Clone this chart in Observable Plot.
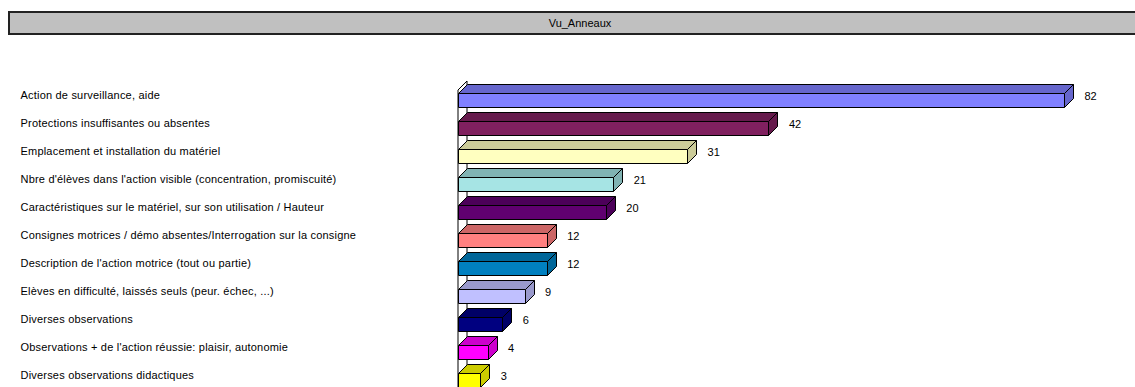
<!DOCTYPE html>
<html>
<head>
<meta charset="utf-8">
<script src="https://cdn.jsdelivr.net/npm/d3@7"></script>
<script src="https://cdn.jsdelivr.net/npm/@observablehq/plot@0.6"></script>
<style>
  body { margin: 0; background: #fff; font-family: Arial, "Liberation Sans", sans-serif; }
  #wrap { position: relative; width: 1135px; height: 387px; overflow: hidden; }
  #chart { position: absolute; left: 0; top: 0; }
  #title {
    position: absolute; left: 8px; top: 11px; width: 1140px; height: 20px;
    background: #c0c0c0; border-top: 2px solid #222; border-left: 2px solid #222;
    border-bottom: 2px solid #222; font-size: 11px; line-height: 20px; text-align: center; color: #000;
  }
  .cat-label { letter-spacing: 0.2px; }
</style>
</head>
<body>
<div id="wrap">
  <div id="chart"></div>
  <div id="title">Vu_Anneaux</div>
</div>
<script>
// Categories (top to bottom) and their counts
const categories = [
  "Action de surveillance, aide",
  "Protections insuffisantes ou absentes",
  "Emplacement et installation du matériel",
  "Nbre d'élèves dans l'action visible (concentration, promiscuité)",
  "Caractéristiques sur le matériel, sur son utilisation / Hauteur",
  "Consignes motrices / démo absentes/Interrogation sur la consigne",
  "Description de l'action motrice (tout ou partie)",
  "Elèves en difficulté, laissés seuls (peur. échec, ...)",
  "Diverses observations",
  "Observations + de l'action réussie: plaisir, autonomie",
  "Diverses observations didactiques"
];
const counts = [82, 42, 31, 21, 20, 12, 12, 9, 6, 4, 3];

// Front-face colours and the darker shade used for the top and side faces
const fronts = ["#8080ff", "#80205f", "#ffffc0", "#a6e4e4", "#600070", "#ff8080",
                "#0080c0", "#c0c0ff", "#000080", "#ff00ff", "#ffff00"];
const shades = ["#6666cc", "#661a4c", "#cccc99", "#80b3b3", "#4c0059", "#cc6666",
                "#006699", "#9999cc", "#000066", "#cc00cc", "#cccc00"];

const rows = categories.map((label, i) => ({label, value: counts[i], front: fronts[i], shade: shades[i]}));

const DEPTH = 9; // pixel depth of the 3D extrusion

// Draws each bar as an extruded box: left wall, then front, top and side faces
function boxes(index, scales, values, dimensions) {
  const ns = "http://www.w3.org/2000/svg";
  const g = document.createElementNS(ns, "g");
  const bw = scales.y.bandwidth ? scales.y.bandwidth() : (values.y[1] - values.y[0]);
  const x0 = scales.x(0);
  const poly = (pts, fill) => {
    const p = document.createElementNS(ns, "polygon");
    p.setAttribute("points", pts.map(d => d.join(",")).join(" "));
    p.setAttribute("fill", fill);
    p.setAttribute("stroke", "#000");
    p.setAttribute("stroke-width", 1);
    p.setAttribute("stroke-linejoin", "round");
    g.appendChild(p);
  };
  // left wall of the category axis
  const wallTop = values.y[index[0]] + bw / 2 - 3;
  const H = dimensions.height + DEPTH;
  poly([[x0, wallTop], [x0 + DEPTH, wallTop - DEPTH], [x0 + DEPTH, H - DEPTH], [x0, H]], "#fff");
  for (const i of index) {
    const xa = Math.round(values.x1[i]) + 0.5;
    const xb = Math.round(values.x2[i]) + 0.5;
    const ft = Math.round(values.y[i] + bw / 2) + 0.5;
    const fb = Math.round(values.y[i] + bw) + 0.5;
    const r = rows[i];
    poly([[xa, ft], [xb, ft], [xb + DEPTH, ft - DEPTH], [xa + DEPTH, ft - DEPTH]], r.shade);
    poly([[xb, ft], [xb + DEPTH, ft - DEPTH], [xb + DEPTH, fb - DEPTH], [xb, fb]], r.shade);
    poly([[xa, ft], [xb, ft], [xb, fb], [xa, fb]], r.front);
  }
  return g;
}

const chart = Plot.plot({
  width: 1135,
  height: 387,
  marginLeft: 458,
  marginRight: 71,
  marginTop: 79,
  marginBottom: 0,
  style: {fontFamily: "Arial, 'Liberation Sans', sans-serif", fontSize: "11px", background: "#fff", overflow: "visible"},
  x: {domain: [0, 82], axis: null},
  y: {domain: categories, padding: 0, axis: null},
  marks: [
    Plot.barX(rows, {x: "value", y: "label", render: boxes}),
    Plot.text(rows, {
      y: "label", text: "label", frameAnchor: "left", textAnchor: "start",
      dx: -438, dy: 2, fill: "#000", fontSize: 11, className: "cat-label"
    }),
    Plot.text(rows, {
      x: "value", y: "label", text: d => String(d.value), textAnchor: "start",
      dx: 20, dy: 3, fill: "#000", fontSize: 11
    })
  ]
});
document.getElementById("chart").appendChild(chart);
</script>
</body>
</html>
